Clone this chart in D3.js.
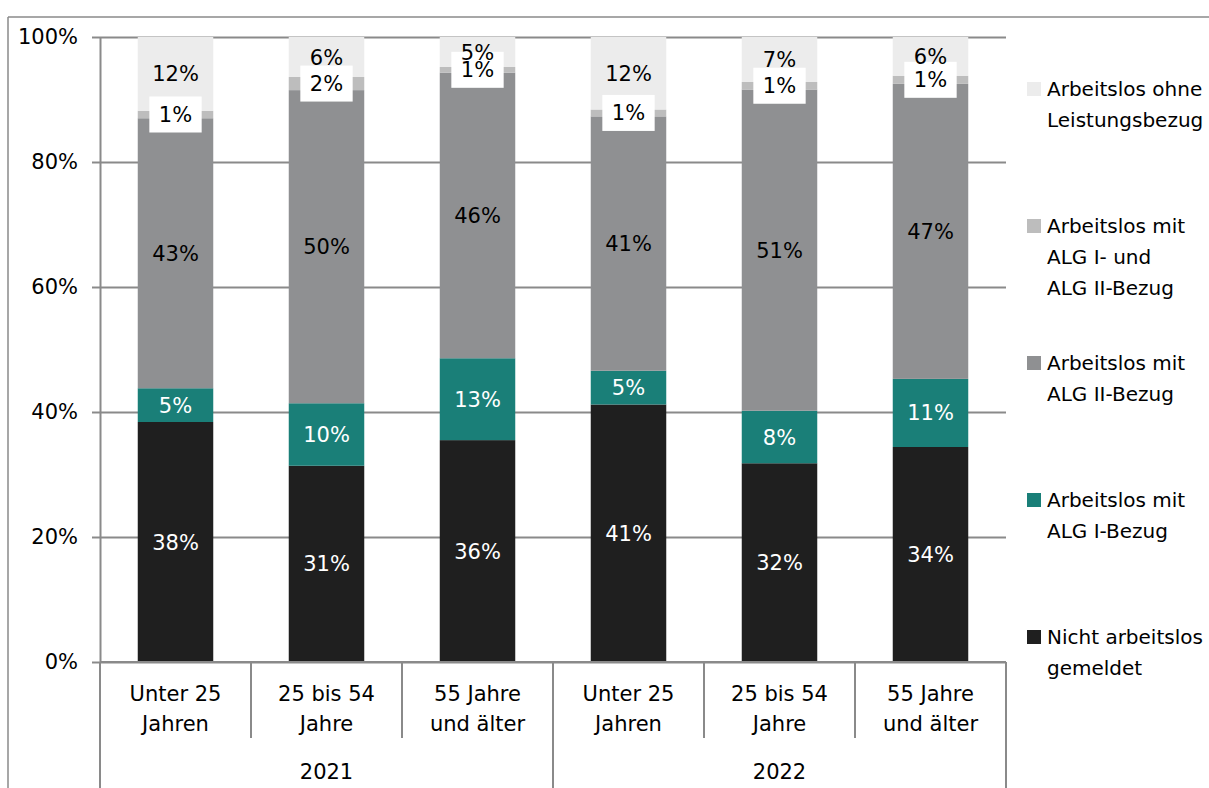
<!DOCTYPE html>
<html>
<head>
<meta charset="utf-8">
<script src="https://cdn.jsdelivr.net/npm/d3@7"></script>
<style>
  body { margin: 0; background: #fff; }
  svg { display: block; font-family: "DejaVu Sans", Verdana, sans-serif; }
</style>
</head>
<body>
<svg id="chart" width="1209" height="788"></svg>
<script>
// age groups and years
const categories = ["Unter 25|Jahren", "25 bis 54|Jahre", "55 Jahre|und älter", "Unter 25|Jahren", "25 bis 54|Jahre", "55 Jahre|und älter"];
const years = ["2021", "2022"];

// shares in percent, bottom to top
const nichtArbeitslos = [38.4, 31.4, 35.5, 41.2, 31.8, 34.4];
const algI = [5.4, 10.0, 13.1, 5.4, 8.4, 10.9];
const algII = [43.2, 50.1, 45.7, 40.7, 51.4, 47.2];
const algIundII = [1.2, 2.1, 0.9, 1.1, 1.2, 1.3];
const ohneLeistung = [11.8, 6.4, 4.8, 11.6, 7.2, 6.2];

const yTicks = [0, 20, 40, 60, 80, 100];

const series = [
    { key: "nicht", label: "Nicht arbeitslos|gemeldet", values: nichtArbeitslos, color: "#1f1f1f", text: "#fff" },
    { key: "algI", label: "Arbeitslos mit|ALG I-Bezug", values: algI, color: "#1a7f78", text: "#fff" },
    { key: "algII", label: "Arbeitslos mit|ALG II-Bezug", values: algII, color: "#8f9092", text: "#000" },
    { key: "beide", label: "Arbeitslos mit|ALG I- und|ALG II-Bezug", values: algIundII, color: "#bdbdbd", text: "#000", boxed: true },
    { key: "ohne", label: "Arbeitslos ohne|Leistungsbezug", values: ohneLeistung, color: "#ececec", text: "#000" }
];

const svg = d3.select("#chart");
const gridColor = "#8a8a8a";

const plotLeft = 100, plotRight = 1006, plotTop = 37, plotBottom = 662;

// outer frame
svg.append("line").attr("x1", 8).attr("x2", 1209).attr("y1", 17).attr("y2", 17)
    .attr("stroke", gridColor).attr("stroke-width", 1.5);
svg.append("line").attr("x1", 8).attr("x2", 8).attr("y1", 17).attr("y2", 788)
    .attr("stroke", gridColor).attr("stroke-width", 1.5);

const x = d3.scaleBand().domain(d3.range(categories.length)).range([plotLeft, plotRight])
    .paddingInner(0.5).paddingOuter(0.25);
const y = d3.scaleLinear().domain([0, 100]).range([plotBottom, plotTop]);

// gridlines
svg.append("g")
    .attr("transform", `translate(${plotLeft},0)`)
    .call(d3.axisLeft(y).tickValues(yTicks).tickSize(-(plotRight - plotLeft)).tickFormat(""))
    .call(g => g.select(".domain").remove())
    .selectAll("line").attr("stroke", gridColor).attr("stroke-width", 2);

// y axis
svg.append("g")
    .attr("transform", `translate(${plotLeft},0)`)
    .call(d3.axisLeft(y).tickValues(yTicks).tickSizeInner(8).tickSizeOuter(0).tickPadding(14).tickFormat(d => d + "%"))
    .call(g => g.select(".domain").attr("stroke", gridColor).attr("stroke-width", 2))
    .call(g => g.selectAll("line").attr("stroke", gridColor).attr("stroke-width", 2))
    .call(g => g.selectAll("text").attr("font-size", 21).attr("fill", "#000").attr("font-family", "DejaVu Sans"));

// stacked bars
const rows = categories.map((c, i) => {
    const r = { i };
    series.forEach(s => r[s.key] = s.values[i]);
    return r;
});
const stack = d3.stack().keys(series.map(s => s.key));
const layers = stack(rows);

const barG = svg.append("g");
layers.forEach((layer, li) => {
    barG.selectAll(null).data(layer).enter().append("rect")
        .attr("x", d => x(d.data.i))
        .attr("width", x.bandwidth())
        .attr("y", d => y(d[1]))
        .attr("height", d => y(d[0]) - y(d[1]))
        .attr("fill", series[li].color);
});

// bottom axis line
svg.append("line").attr("x1", plotLeft).attr("x2", plotRight).attr("y1", plotBottom).attr("y2", plotBottom)
    .attr("stroke", gridColor).attr("stroke-width", 2);

// data labels
const labelG = svg.append("g").attr("font-size", 21).attr("text-anchor", "middle");
layers.forEach((layer, li) => {
    const s = series[li];
    layer.forEach(d => {
        const cx = x(d.data.i) + x.bandwidth() / 2;
        const cy = (y(d[0]) + y(d[1])) / 2;
        const t = labelG.append("text")
            .attr("x", cx).attr("y", cy).attr("dy", "0.36em")
            .attr("fill", s.text)
            .text(Math.round(d.data[s.key]) + "%");
        if (s.boxed) {
            const bb = t.node().getBBox();
            labelG.insert("rect", () => t.node())
                .attr("x", cx - bb.width / 2 - 9.5).attr("y", cy - 18)
                .attr("width", bb.width + 19).attr("height", 36)
                .attr("fill", "#fff");
        }
    });
});

// category separators and labels
const step = x.step();
const sepX = i => plotLeft + i * step;
d3.range(categories.length + 1).forEach(i => {
    svg.append("line").attr("x1", sepX(i)).attr("x2", sepX(i))
        .attr("y1", plotBottom).attr("y2", i % 3 === 0 ? 788 : 738)
        .attr("stroke", gridColor).attr("stroke-width", 2);
});
const catG = svg.append("g").attr("font-size", 21).attr("text-anchor", "middle");
categories.forEach((c, i) => {
    const t = catG.append("text").attr("x", x(i) + x.bandwidth() / 2).attr("y", 693);
    c.split("|").forEach((line, k) => {
        t.append("tspan").attr("x", x(i) + x.bandwidth() / 2).attr("dy", k === 0 ? "0.36em" : 30).text(line);
    });
});
years.forEach((yr, i) => {
    catG.append("text").attr("x", (sepX(i * 3) + sepX(i * 3 + 3)) / 2).attr("y", 771).attr("dy", "0.36em").text(yr);
});

// legend
const legendG = svg.append("g").attr("font-size", 20);
series.slice().reverse().forEach((s, i) => {
    const ly = 89 + i * 137;
    legendG.append("rect").attr("x", 1027).attr("y", ly - 7).attr("width", 14).attr("height", 14).attr("fill", s.color);
    const t = legendG.append("text").attr("x", 1047).attr("y", ly);
    s.label.split("|").forEach((line, k) => {
        t.append("tspan").attr("x", 1047).attr("dy", k === 0 ? "0.36em" : 31).text(line);
    });
});
</script>
</body>
</html>
